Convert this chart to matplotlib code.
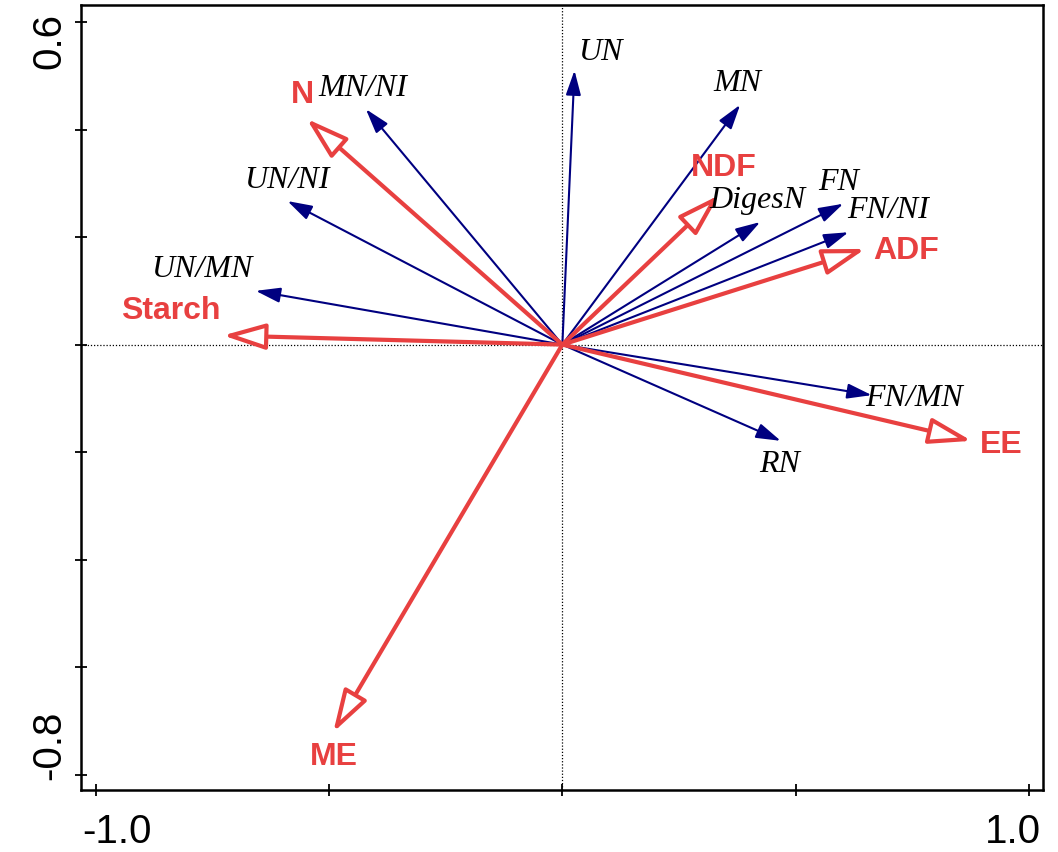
import matplotlib
matplotlib.use('Agg')
import matplotlib.pyplot as plt

# response variables (blue arrows)
resp_names = ['UN', 'MN', 'MN/NI', 'UN/NI', 'UN/MN', 'DigesN', 'FN', 'FN/NI', 'FN/MN', 'RN']
resp_x = [0.026, 0.381, -0.421, -0.589, -0.657, 0.424, 0.602, 0.613, 0.663, 0.468]
resp_y = [0.510, 0.446, 0.438, 0.267, 0.100, 0.228, 0.262, 0.209, -0.094, -0.179]
resp_lab_x = [0.081, 0.374, -0.427, -0.590, -0.772, 0.418, 0.593, 0.698, 0.754, 0.466]
resp_lab_y = [0.546, 0.487, 0.478, 0.308, 0.142, 0.269, 0.303, 0.252, -0.098, -0.221]

# explanatory variables (red arrows)
env_names = ['N', 'NDF', 'ADF', 'Starch', 'EE', 'ME']
env_x = [-0.548, 0.336, 0.649, -0.727, 0.877, -0.491]
env_y = [0.420, 0.278, 0.178, 0.017, -0.179, -0.721]
env_lab_x = [-0.557, 0.346, 0.736, -0.839, 0.940, -0.489]
env_lab_y = [0.466, 0.331, 0.176, 0.064, -0.185, -0.766]

blue = '#000080'
red = '#e84040'

fig = plt.figure(figsize=(10.58, 8.53), dpi=100)
ax = fig.add_axes([0.07656, 0.07268, 0.90926, 0.92028])
ax.set_xlim(-1.0315, 1.030)
ax.set_ylim(-0.8285, 0.6317)

ax.axhline(0, color='k', ls=(0, (1, 1.5)), lw=0.9, zorder=1)
ax.axvline(0, color='k', ls=(0, (1, 1.5)), lw=0.9, zorder=1)

for x, y in zip(resp_x, resp_y):
    ax.annotate('', xy=(x, y), xytext=(0, 0),
                arrowprops=dict(arrowstyle='-|>,head_length=0.75,head_width=0.23',
                                mutation_scale=20, lw=1.5, ec=blue, fc=blue,
                                shrinkA=0, shrinkB=0), zorder=2)

for x, y in zip(env_x, env_y):
    ax.annotate('', xy=(x, y), xytext=(0, 0),
                arrowprops=dict(arrowstyle='-|>,head_length=1.3,head_width=0.4',
                                mutation_scale=20, lw=3.0, ec=red, fc='white',
                                shrinkA=0, shrinkB=0), zorder=3)

for name, x, y in zip(resp_names, resp_lab_x, resp_lab_y):
    ax.text(x, y, name, ha='center', va='center', fontsize=23,
            family='Liberation Serif', style='italic', color='k', zorder=4)

for name, x, y in zip(env_names, env_lab_x, env_lab_y):
    ax.text(x, y, name, ha='center', va='center', fontsize=23,
            family='Liberation Sans', weight='bold', color=red, zorder=4)

# ticks
ax.set_xticks([-1.0, -0.5, 0.0, 0.5, 1.0])
ax.set_yticks([-0.8, -0.6, -0.4, -0.2, 0.0, 0.2, 0.4, 0.6])
ax.set_xticklabels([])
ax.set_yticklabels([])
ax.tick_params(direction='inout', length=8, width=1.3, color='k')
for s in ax.spines.values():
    s.set_linewidth(1.8)

# end tick labels, pulled inward as in the original
tfont = dict(family='Liberation Sans', fontsize=29, color='k')
xt = ax.get_xaxis_transform()
ax.text(-0.9533, -0.0665, '-1.0', transform=xt, ha='center', va='baseline', **tfont)
ax.text(0.9657, -0.0665, '1.0', transform=xt, ha='center', va='baseline', **tfont)
yt = ax.get_yaxis_transform()
ax.text(-0.0218, 0.5657, '0.6', transform=yt, rotation=90, rotation_mode='anchor',
        ha='center', va='baseline', **tfont)
ax.text(-0.0218, -0.743, '-0.8', transform=yt, rotation=90, rotation_mode='anchor',
        ha='center', va='baseline', **tfont)

fig.savefig('out.png', dpi=100)
